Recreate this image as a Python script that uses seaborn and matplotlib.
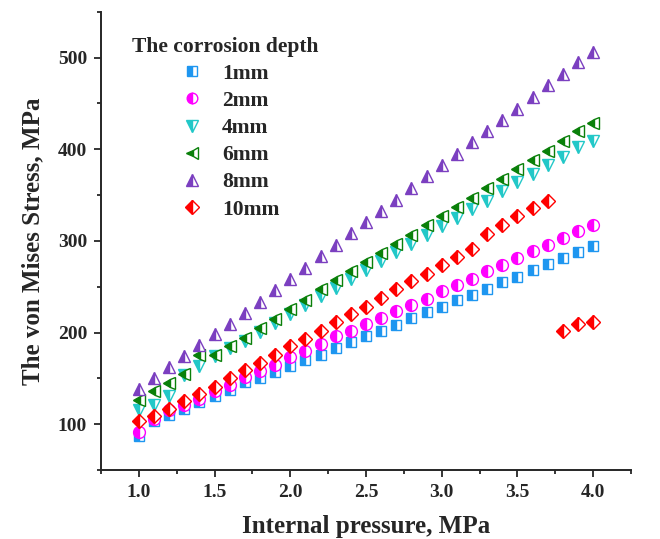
import matplotlib
matplotlib.use("Agg")
import matplotlib.pyplot as plt
from matplotlib.ticker import MultipleLocator
import seaborn as sns
import pandas as pd

pressure = [1.0, 1.1, 1.2, 1.3, 1.4, 1.5, 1.6, 1.7, 1.8, 1.9, 2.0,
            2.1, 2.2, 2.3, 2.4, 2.5, 2.6, 2.7, 2.8, 2.9, 3.0,
            3.1, 3.2, 3.3, 3.4, 3.5, 3.6, 3.7, 3.8, 3.9, 4.0]

depth_1mm = [87, 104, 110, 117, 124, 131, 137, 146, 150, 157, 163,
             170, 176, 183, 190, 196, 202, 208, 216, 222, 228,
             235, 241, 248, 255, 261, 268, 275, 281, 288, 294]
depth_2mm = [92, 106, 115, 121, 128, 136, 143, 151, 158, 165, 173,
             180, 188, 196, 202, 209, 216, 223, 230, 237, 245,
             252, 259, 267, 274, 281, 289, 296, 303, 311, 317]
depth_4mm = [115, 121, 131, 154, 164, 174, 183, 191, 201, 210, 220,
             230, 240, 249, 259, 268, 278, 288, 297, 306, 316,
             325, 335, 344, 354, 364, 373, 383, 392, 402, 409]
depth_6mm = [126, 136, 145, 155, 175, 175, 185, 194, 205, 215, 226,
             236, 247, 257, 267, 277, 287, 297, 307, 317, 327,
             337, 347, 358, 368, 379, 388, 398, 409, 420, 429]
depth_8mm = [138, 150, 162, 174, 186, 198, 209, 221, 233, 246, 258,
             271, 284, 296, 309, 321, 333, 345, 358, 371, 383,
             395, 408, 420, 432, 444, 457, 470, 482, 495, 506]
depth_10mm = [103, 109, 117, 125, 133, 141, 150, 159, 167, 176, 185,
              193, 202, 211, 220, 228, 238, 247, 256, 264, 274,
              282, 291, 308, 317, 327, 336, 344, 202, 209, 212]

labels = ["1mm", "2mm", "4mm", "6mm", "8mm", "10mm"]
series = [depth_1mm, depth_2mm, depth_4mm, depth_6mm, depth_8mm, depth_10mm]
colors = ["#1E96F0", "#FF00FF", "#22C8C8", "#0A800A", "#7B3FC0", "#FF0000"]
markers = ["s", "o", "v", "<", "^", "D"]
sizes = [7.5, 8.5, 9, 9, 9, 7.5]

df = pd.concat([pd.DataFrame({"pressure": pressure, "stress": s, "depth": lab})
                for lab, s in zip(labels, series)], ignore_index=True)

sns.set_style("ticks")
plt.rcParams["font.family"] = ["Liberation Serif", "DejaVu Serif"]
plt.rcParams["font.weight"] = "bold"

fig = plt.figure(figsize=(6.6, 5.39), dpi=100)
ax = fig.add_axes([0.153, 0.128, 0.803, 0.85])

for lab, col, mk, ms in zip(labels, colors, markers, sizes):
    sub = df[df["depth"] == lab]
    sns.lineplot(data=sub, x="pressure", y="stress", ax=ax, label=lab,
                 linestyle="", marker=mk, markersize=ms, fillstyle="left",
                 color=col, markeredgecolor=col, markerfacecoloralt="white",
                 markeredgewidth=1.0)

ax.set_xlim(0.75, 4.25)
ax.set_ylim(50, 550)
ax.xaxis.set_major_locator(MultipleLocator(0.5))
ax.xaxis.set_minor_locator(MultipleLocator(0.25))
ax.yaxis.set_major_locator(MultipleLocator(100))
ax.yaxis.set_minor_locator(MultipleLocator(50))
ax.tick_params(which="major", direction="out", length=5, width=1.3,
               labelsize=14, pad=5)
ax.tick_params(which="minor", direction="out", length=3, width=1.3)
for lbl in ax.get_xticklabels() + ax.get_yticklabels():
    lbl.set_fontweight("bold")

sns.despine(ax=ax)
for sp in ["left", "bottom"]:
    ax.spines[sp].set_linewidth(1.4)

ax.set_xlabel("Internal pressure, MPa", fontsize=18, fontweight="bold", labelpad=10)
ax.set_ylabel("The von Mises Stress, MPa", fontsize=18, fontweight="bold", labelpad=10)

leg = ax.legend(title="The corrosion depth", loc="upper left",
                bbox_to_anchor=(0.058, 0.946), frameon=False,
                borderpad=0, borderaxespad=0,
                prop={"size": 15.5, "weight": "bold"},
                title_fontproperties={"size": 15.5, "weight": "bold"},
                labelspacing=0.33, handlelength=2.0, handletextpad=0.4,
                markerscale=0.9)

fig.savefig("out.png", dpi=100)
